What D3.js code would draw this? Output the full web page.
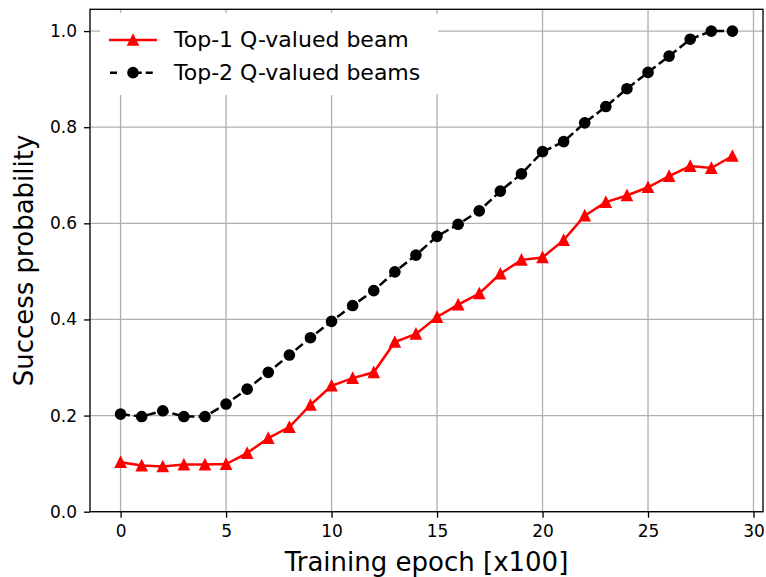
<!DOCTYPE html>
<html>
<head>
<meta charset="utf-8">
<script src="https://cdn.jsdelivr.net/npm/d3@7"></script>
<style>
  body { margin: 0; background: #fff; }
  text { font-family: "DejaVu Sans", sans-serif; fill: #000; }
</style>
</head>
<body>
<svg></svg>
<script>
// data
var epochs = d3.range(0, 30)
var top1 = [0.103, 0.096, 0.094, 0.098, 0.098, 0.099, 0.122, 0.153, 0.176, 0.222,
            0.262, 0.278, 0.290, 0.353, 0.370, 0.405, 0.431, 0.454, 0.495, 0.524,
            0.529, 0.565, 0.616, 0.644, 0.658, 0.675, 0.698, 0.719, 0.715, 0.740]
var top2 = [0.203, 0.198, 0.210, 0.198, 0.198, 0.224, 0.255, 0.290, 0.326, 0.362,
            0.396, 0.429, 0.460, 0.499, 0.534, 0.573, 0.598, 0.626, 0.667, 0.703,
            0.749, 0.770, 0.809, 0.843, 0.880, 0.914, 0.948, 0.983, 1.000, 1.000]
var xTicks = [0, 5, 10, 15, 20, 25, 30]
var yTicks = [0, 0.2, 0.4, 0.6, 0.8, 1.0]
var seriesNames = ['Top-1 Q-valued beam', 'Top-2 Q-valued beams']

var svgWidth = 766, svgHeight = 577
var plotLeft = 90, plotRight = 763, plotTop = 9.3, plotBottom = 511.7
var svg = d3.select('svg')
    .attr('width', svgWidth)
    .attr('height', svgHeight)

var x = d3.scaleLinear().domain([-1.45, 30.45]).range([plotLeft, plotRight])
var y = d3.scaleLinear().domain([0, 1.0453]).range([plotBottom, plotTop])

// grid
var grid = svg.append('g')
grid.selectAll('.gx').data(xTicks).enter().append('line')
    .attr('x1', d => x(d)).attr('x2', d => x(d))
    .attr('y1', plotTop).attr('y2', plotBottom)
    .attr('stroke', '#b0b0b0').attr('stroke-width', 1.33)
grid.selectAll('.gy').data(yTicks).enter().append('line')
    .attr('x1', plotLeft).attr('x2', plotRight)
    .attr('y1', d => y(d)).attr('y2', d => y(d))
    .attr('stroke', '#b0b0b0').attr('stroke-width', 1.33)

// axes
var xAxis = svg.append('g')
    .attr('transform', 'translate(0,' + plotBottom + ')')
    .call(d3.axisBottom(x).tickValues(xTicks).tickSize(6).tickPadding(7).tickFormat(d3.format('d')))
var yAxis = svg.append('g')
    .attr('transform', 'translate(' + plotLeft + ',0)')
    .call(d3.axisLeft(y).tickValues(yTicks).tickSize(6).tickPadding(7).tickFormat(d3.format('.1f')))
;[xAxis, yAxis].forEach(function(a) {
    a.select('.domain').remove()
    a.selectAll('line').attr('stroke', '#000').attr('stroke-width', 1.33)
    a.selectAll('text').attr('font-size', 17).attr('font-family', 'DejaVu Sans')
})

var line = d3.line()
    .x((d, i) => x(epochs[i]))
    .y(d => y(d))

// top-2 dashed black with circles
svg.append('path')
    .attr('d', line(top2))
    .attr('fill', 'none')
    .attr('stroke', '#000')
    .attr('stroke-width', 2.5)
    .attr('stroke-dasharray', '9.25,4')
svg.selectAll('.dot').data(top2).enter().append('circle')
    .attr('cx', (d, i) => x(epochs[i]))
    .attr('cy', d => y(d))
    .attr('r', 5)
    .attr('fill', '#000')
    .attr('stroke', '#000').attr('stroke-width', 1.67)

// top-1 solid red with triangles
svg.append('path')
    .attr('d', line(top1))
    .attr('fill', 'none')
    .attr('stroke', 'red')
    .attr('stroke-width', 2.5)
svg.selectAll('.tri').data(top1).enter().append('path')
    .attr('d', 'M0,-5L5,5L-5,5Z')
    .attr('transform', (d, i) => 'translate(' + x(epochs[i]) + ',' + y(d) + ')')
    .attr('fill', 'red')
    .attr('stroke', 'red').attr('stroke-width', 1.67).attr('stroke-linejoin', 'miter')

// frame
svg.append('rect')
    .attr('x', plotLeft).attr('y', plotTop)
    .attr('width', plotRight - plotLeft).attr('height', plotBottom - plotTop)
    .attr('fill', 'none').attr('stroke', '#000').attr('stroke-width', 1.33)

// legend
var lg = svg.append('g')
lg.append('rect')
    .attr('x', 100).attr('y', 13).attr('width', 338).attr('height', 82)
    .attr('rx', 3).attr('fill', '#fff')
lg.append('line')
    .attr('x1', 109).attr('x2', 157).attr('y1', 40).attr('y2', 40)
    .attr('stroke', 'red').attr('stroke-width', 2.5)
lg.append('path')
    .attr('d', 'M0,-5L5,5L-5,5Z')
    .attr('transform', 'translate(133,40)')
    .attr('fill', 'red')
    .attr('stroke', 'red').attr('stroke-width', 1.67)
lg.append('line')
    .attr('x1', 110).attr('x2', 157).attr('y1', 72.7).attr('y2', 72.7)
    .attr('stroke', '#000').attr('stroke-width', 2.5)
    .attr('stroke-dasharray', '7,15.5,9.25,4')
lg.append('circle')
    .attr('cx', 133).attr('cy', 72.7).attr('r', 5).attr('fill', '#000')
    .attr('stroke', '#000').attr('stroke-width', 1.67)
lg.selectAll('.lt').data(seriesNames).enter().append('text')
    .attr('x', 174)
    .attr('y', (d, i) => 47 + i * 33.3)
    .attr('font-size', 22)
    .text(d => d)

// axis labels
svg.append('text')
    .attr('x', (plotLeft + plotRight) / 2).attr('y', 570.7)
    .attr('text-anchor', 'middle').attr('font-size', 26)
    .text('Training epoch [x100]')
svg.append('text')
    .attr('transform', 'translate(33.3,' + (plotTop + plotBottom) / 2 + ') rotate(-90)')
    .attr('text-anchor', 'middle').attr('font-size', 26)
    .text('Success probability')
</script>
</body>
</html>
